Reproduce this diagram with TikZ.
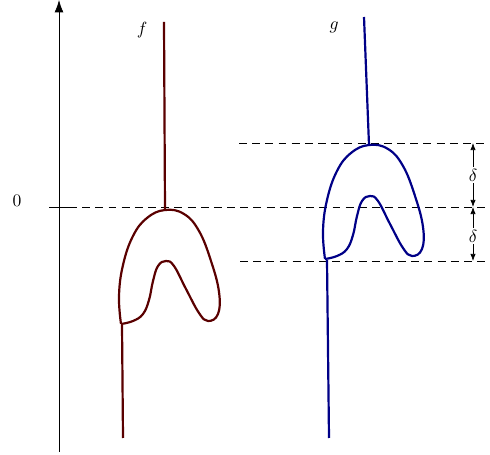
\documentclass[tikz,border=0pt]{standalone}
\usepackage{amsmath, amssymb}
\usetikzlibrary{arrows.meta, positioning, calc}
\definecolor{fcolor}{RGB}{90, 0, 0}
\definecolor{gcolor}{RGB}{0, 0, 135}

\tikzset{
    curve/.style={line width=1.25pt},
    level/.style={dash pattern=on 4.5pt off 3pt, line width=0.4pt},
    gap/.style={-{Latex[length=4pt, width=3pt]}, line width=0.4pt}
}

\begin{document}
\begin{tikzpicture}[x=0.02cm, y=-0.02cm]
        \useasboundingbox (0, 0) rectangle (490, 455);
        % axis
        \coordinate (axbot) at (59, 452);
        \coordinate (axtop) at (59, 0);
        \draw[-{Latex[length=7pt, width=5pt]}] (axbot) -- (axtop);
        \coordinate (tickl) at (49, 207);
        \coordinate (tickr) at (69, 207);
        \draw (tickl) -- (tickr);
        \node (zero) at (17, 201) {$0$};
        % levels
        \coordinate (midl) at (69, 207);
        \coordinate (midr) at (490, 207);
        \coordinate (upl) at (239, 143);
        \coordinate (upr) at (488, 143);
        \coordinate (lowl) at (240, 261);
        \coordinate (lowr) at (488, 261);
        \draw[level] (midl) -- (midr);
        \draw[level] (upl) -- (upr);
        \draw[level] (lowl) -- (lowr);
        % delta gaps
        \coordinate (dup) at (473, 143);
        \coordinate (dmid) at (473, 207);
        \coordinate (dlow) at (473, 261);
        \node[inner sep=1pt] (delta1) at (473, 175) {$\delta$};
        \node[inner sep=1pt] (delta2) at (473, 236) {$\delta$};
        \draw[gap] (delta1) -- (dup);
        \draw[gap] (delta1) -- (dmid);
        \draw[gap] (delta2) -- (dmid);
        \draw[gap] (delta2) -- (dlow);
        % f
        \node (flabel) at (142, 30) {$f$};
        \coordinate (ftop) at (164, 22);
        \coordinate (fcap) at (165, 210);
        \coordinate (fjoin) at (122, 325);
        \coordinate (fbot) at (123, 438);
        \draw[curve, fcolor] (ftop) -- (fcap);
        \draw[curve, fcolor] (fjoin) -- (fbot);
        \draw[curve, fcolor, line join=round] plot[smooth, tension=0.7] coordinates {
            (121, 324) (119, 296) (123, 265) (133, 236) (147, 218) (165, 210)
            (184, 214) (199, 231) (211, 261) (219, 292) (218, 314) (208, 321)
            (199, 313) (186, 289) (174, 266) (166, 261) (158, 266) (153, 281)
            (149, 300) (143, 314) (133, 321) (121, 324)};
        % g
        \node (glabel) at (334, 27) {$g$};
        \coordinate (gtop) at (364, 17);
        \coordinate (gcap) at (369, 145);
        \coordinate (gjoin) at (327, 260);
        \coordinate (gbot) at (329, 438);
        \draw[curve, gcolor] (gtop) -- (gcap);
        \draw[curve, gcolor] (gjoin) -- (gbot);
        \begin{scope}[shift={(204, -65)}]
            \draw[curve, gcolor, line join=round] plot[smooth, tension=0.7] coordinates {
                (121, 324) (119, 296) (123, 265) (133, 236) (147, 218) (165, 210)
                (184, 214) (199, 231) (211, 261) (219, 292) (218, 314) (208, 321)
                (199, 313) (186, 289) (174, 266) (166, 261) (158, 266) (153, 281)
                (149, 300) (143, 314) (133, 321) (121, 324)};
        \end{scope}
    \end{tikzpicture}
\end{document}
